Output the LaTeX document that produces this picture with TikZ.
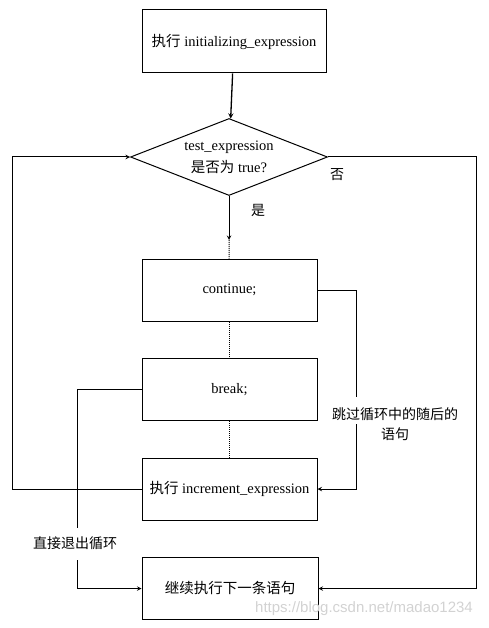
\documentclass[tikz,border=0pt]{standalone}
\usepackage{fontspec}
\setmainfont{Liberation Serif}
\newfontfamily\cjk{Noto Sans CJK SC}
\newfontfamily\wmfont{Liberation Sans}
\usetikzlibrary{shapes.geometric}
\begin{document}
\begin{tikzpicture}[x=1pt,y=-1pt,>=stealth,line width=1pt,
    box/.style={draw,minimum width=175pt,minimum height=62pt,inner sep=0pt,font=\fontsize{14.5}{17}\selectfont},
    lbl/.style={inner sep=0pt,align=center,font=\fontsize{14}{20}\selectfont\cjk}]
        \useasboundingbox (0,0) rectangle (488,628);

        \node[box,minimum width=184pt,minimum height=63pt] (init) at (234,41.5) {{\cjk 执行} initializing\_expression};
        \node[draw,diamond,aspect=2.56,minimum width=197pt,minimum height=77pt,inner sep=0pt,align=center,font=\fontsize{14.5}{22}\selectfont] (test) at (229,157) {test\_expression\\{\cjk 是否为} true?};
        \draw[->,line width=1.3pt] (init) -- (test);

        \node[lbl] (no) at (337,175) {否};
        \node[lbl] (yes) at (258,210) {是};
        \coordinate (yesend) at (229,240);
        \node[box] (cont) at (229.5,290) {continue;};
        \draw[->] (test.south) -- (yesend);
        \draw[densely dotted] (yesend) -- (cont);

        \node[box] (brk) at (229.5,389.5) {break;};
        \draw[densely dotted] (cont) -- (brk);

        \node[box] (incr) at (229.5,489) {{\cjk 执行} increment\_expression};
        \draw[densely dotted] (brk) -- (incr);

        \node[box,minimum width=176pt] (next) at (230,588.5) {\cjk 继续执行下一条语句};

        \coordinate (loopx) at (12.5,157);
        \draw[->] (incr.west) -| (loopx) -- (test.west);

        \coordinate (outx) at (476.5,588.5);
        \draw[->] (test.east) -| (outx) -- (next.east);

        \node[lbl] (skip) at (395,424) {跳过循环中的随后的\\语句};
        \coordinate (skiptop) at (356.5,397);
        \coordinate (skipbot) at (356.5,424);
        \draw (cont.east) -| (skiptop);
        \draw[->] (skipbot) |- (incr.east);

        \node[lbl] (quit) at (75,543) {直接退出循环};
        \coordinate (quittop) at (77.5,528);
        \coordinate (quitbot) at (77.5,560);
        \draw (brk.west) -| (quittop);
        \draw[->] (quitbot) |- (next.west);

        \node[text=gray!35,font=\fontsize{15}{15}\selectfont\wmfont] (mark) at (364,609) {https://blog.csdn.net/madao1234};
\end{tikzpicture}
\end{document}
